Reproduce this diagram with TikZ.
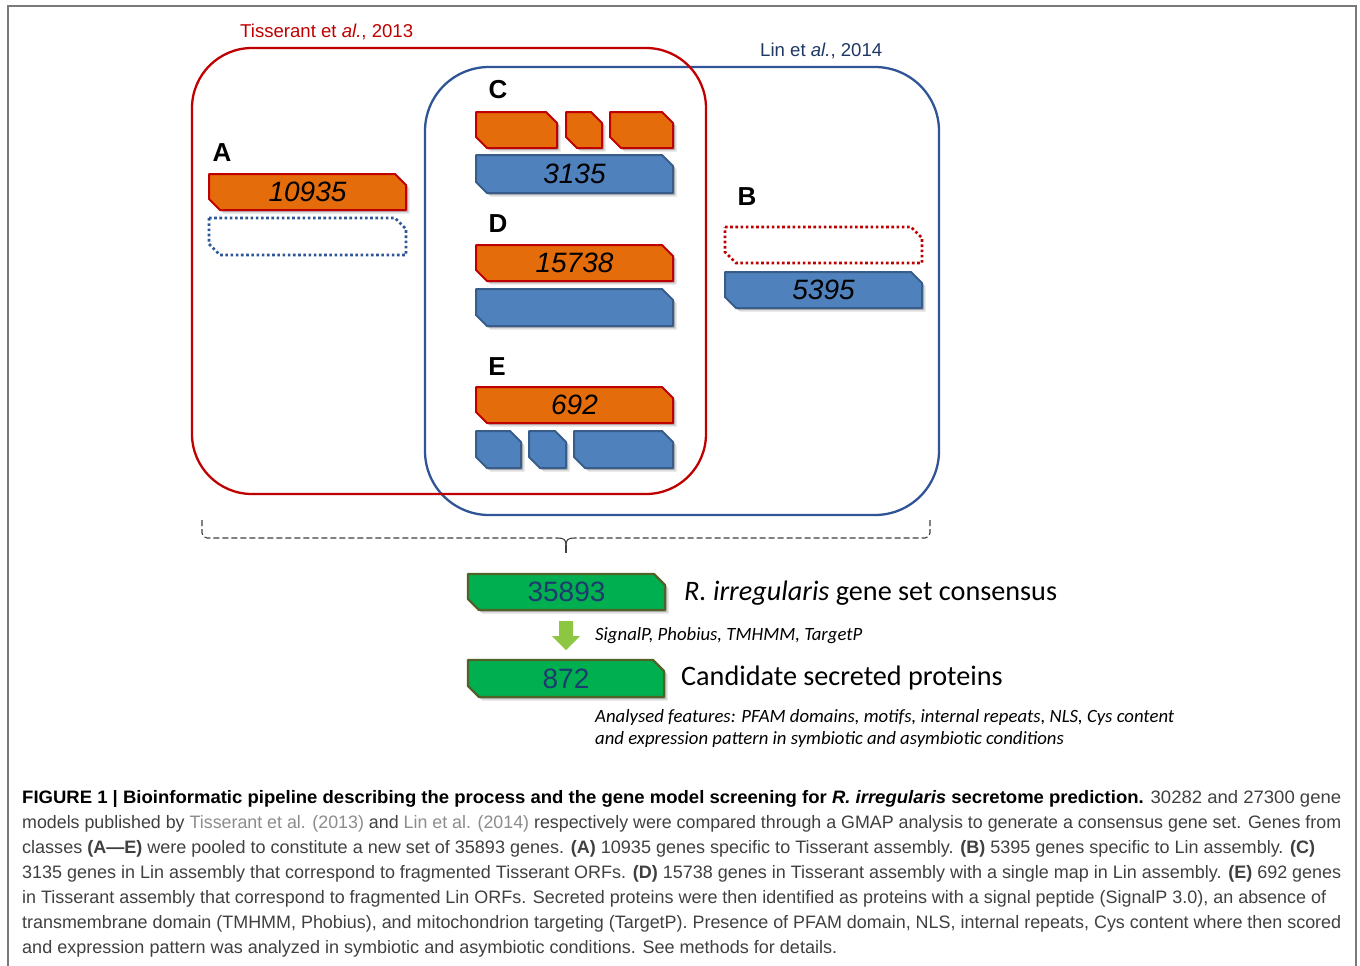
\documentclass[tikz,border=0pt]{standalone}
\usepackage{fontspec}
\setmainfont{Liberation Sans}
\newfontfamily\calfont{Carlito}
\usetikzlibrary{shapes.misc}
\definecolor{tisline}{HTML}{C00000}
\definecolor{tisfill}{HTML}{E46C0A}
\definecolor{linline}{HTML}{385D8A}
\definecolor{linfill}{HTML}{4F81BD}
\definecolor{linbig}{HTML}{2F5597}
\definecolor{linlabel}{HTML}{1F3864}
\definecolor{grfill}{HTML}{00B050}
\definecolor{grline}{HTML}{4F6228}
\definecolor{grtext}{HTML}{1F3A6E}
\definecolor{arrowgr}{HTML}{8DC641}
\definecolor{framec}{HTML}{7A7A7A}
\definecolor{captext}{HTML}{404040}
\definecolor{capcite}{HTML}{8C8C8C}
\definecolor{bracec}{HTML}{404040}
\newcommand\capsize{\fontsize{18}{22}\selectfont}
\newcommand\fitline[2]{\resizebox{#1pt}{\height}{#2}}
\newcommand\lineA{\textbf{\color{black}FIGURE 1 | Bioinformatic pipeline describing the process and the gene model screening for \textit{R. irregularis} secretome prediction.} 30282 and 27300 gene}
\newcommand\lineB{models published by {\color{capcite}Tisserant et al. (2013)} and {\color{capcite}Lin et al. (2014)} respectively were compared through a GMAP analysis to generate a consensus gene set. Genes from}
\newcommand\lineC{classes \textbf{(A—E)} were pooled to constitute a new set of 35893 genes. \textbf{(A)} 10935 genes specific to Tisserant assembly. \textbf{(B)} 5395 genes specific to Lin assembly. \textbf{(C)}}
\newcommand\lineD{3135 genes in Lin assembly that correspond to fragmented Tisserant ORFs. \textbf{(D)} 15738 genes in Tisserant assembly with a single map in Lin assembly. \textbf{(E)} 692 genes}
\newcommand\lineE{in Tisserant assembly that correspond to fragmented Lin ORFs. Secreted proteins were then identified as proteins with a signal peptide (SignalP 3.0), an absence of}
\newcommand\lineF{transmembrane domain (TMHMM, Phobius), and mitochondrion targeting (TargetP). Presence of PFAM domain, NLS, internal repeats, Cys content where then scored}
\newcommand\lineG{and expression pattern was analyzed in symbiotic and asymbiotic conditions. See methods for details.}
% chamfered outline: cx, cy, w, h (pixel units, y downwards)
\def\chz{11}
\newcommand\chpath[4]{({#1-#3/2},{#2-#4/2}) -- ({#1+#3/2-\chz},{#2-#4/2}) -- ({#1+#3/2},{#2-#4/2+\chz}) -- ({#1+#3/2},{#2+#4/2}) -- ({#1-#3/2+\chz},{#2+#4/2}) -- ({#1-#3/2},{#2+#4/2-\chz}) -- cycle}
% gene box: #1 outline style, #2 text style, #3 name, #4 cx, #5 cy, #6 w, #7 h, #8 text
\newcommand\genebox[8]{%
  \fill[black, opacity=0.12, xshift=3.5pt, yshift=-3.5pt] \chpath{#4}{#5}{#6}{#7};
  \fill[black, opacity=0.18, xshift=2pt, yshift=-2pt] \chpath{#4}{#5}{#6}{#7};
  \path[#1] \chpath{#4}{#5}{#6}{#7};
  \node[#2, inner sep=0pt, minimum width=#6pt, minimum height=#7pt] (#3) at (#4,#5) {#8};
}
\newcommand\dotgene[6]{%
  \path[#1] \chpath{#3}{#4}{#5}{#6};
  \node[inner sep=0pt, minimum width=#5pt, minimum height=#6pt] (#2) at (#3,#4) {};
}
\tikzset{
  tisbox/.style={fill=tisfill, draw=tisline, line width=2pt, line join=round},
  linbox/.style={fill=linfill, draw=linline, line width=2pt, line join=round},
  grnbox/.style={fill=grfill, draw=grline, line width=2.4pt, line join=round},
  numtxt/.style={font=\fontsize{28}{30}\selectfont\itshape},
  grntxt/.style={font=\fontsize{28}{30}\selectfont, text=grtext},
  dotline/.style={line width=2.6pt, dash pattern=on 2.6pt off 2.6pt},
  letter/.style={font=\fontsize{26}{28}\selectfont\bfseries, inner sep=0pt},
  setlabel/.style={font=\fontsize{18.6}{20}\selectfont, anchor=west, inner sep=0pt},
  bigset/.style={draw, line width=2.3pt, fill=none},
  capline/.style={anchor=base west, inner sep=0pt, text=captext, font=\capsize},
  calbig/.style={anchor=west, inner sep=0pt, font=\calfont\fontsize{28.2}{30}\selectfont},
  calsmall/.style={anchor=west, inner sep=0pt, font=\calfont\itshape\fontsize{18.75}{21}\selectfont},
  bracestyle/.style={draw=bracec, line width=1.1pt, dash pattern=on 6pt off 3pt},
}
\begin{document}
\begin{tikzpicture}[x=1pt,y=-1pt]
\useasboundingbox (0,0) rectangle (1360,966);
\fill[white] (0,0) rectangle (1360,966);
% frame
\draw[framec, line width=1.6pt] (8,966) -- (8,6) -- (1356,6) -- (1356,966);

% sets
\node[bigset, draw=linbig, rounded corners=64pt, minimum width=514pt, minimum height=448pt] (linset) at (682,291) {};
\node[bigset, draw=tisline, rounded corners=60pt, minimum width=514pt, minimum height=446pt] (tisset) at (449,271) {};
\node[setlabel, text=tisline] (tislab) at (240,32) {Tisserant et \textit{al.}, 2013};
\node[setlabel, text=linlabel] (linlab) at (760,51) {Lin et \textit{al.}, 2014};

% letters
\node[letter] (la) at (222,153) {A};
\node[letter] (lc) at (498,90) {C};
\node[letter] (ld) at (498,224) {D};
\node[letter] (le) at (497,367) {E};
\node[letter] (lb) at (747,197) {B};

% A
\genebox{tisbox}{numtxt}{a1}{307.5}{192}{197}{36}{10935}
\dotgene{draw=linbig, dotline}{a2}{307.5}{236.5}{197}{37}
% C
\genebox{tisbox}{numtxt}{c1}{516.5}{130}{81}{36}{}
\genebox{tisbox}{numtxt}{c2}{584}{130}{36}{36}{}
\genebox{tisbox}{numtxt}{c3}{641.5}{130}{63}{36}{}
\genebox{linbox}{numtxt}{c4}{574.5}{174}{197}{38}{3135}
% D
\genebox{tisbox}{numtxt}{d1}{574.5}{263}{197}{36}{15738}
\genebox{linbox}{numtxt}{d2}{574.5}{307.5}{197}{37}{}
% E
\genebox{tisbox}{numtxt}{e1}{574.5}{405}{197}{36}{692}
\genebox{linbox}{numtxt}{e2}{498.5}{449.5}{45}{37}{}
\genebox{linbox}{numtxt}{e3}{547.5}{449.5}{37}{37}{}
\genebox{linbox}{numtxt}{e4}{623.5}{449.5}{99}{37}{}
% B
\dotgene{draw=tisline, dotline}{b1}{823.5}{245}{197}{36}
\genebox{linbox}{numtxt}{b2}{823.5}{290}{197}{36}{5395}

% brace
\coordinate (bl) at (202,520);
\coordinate (br) at (930,520);
\coordinate (bm) at (566,553);
\draw[bracestyle, rounded corners=5pt] (bl) -- (202,538) -- (558,538);
\draw[bracestyle, rounded corners=5pt] (br) -- (930,538) -- (574,538);
\draw[bracestyle, dash pattern=on 3pt off 0pt] (558,538) .. controls (564,538) and (566,540) .. (566,545);
\draw[bracestyle, dash pattern=on 3pt off 0pt] (574,538) .. controls (568,538) and (566,540) .. (566,545);
\draw[bracestyle, dash pattern=on 8pt off 0pt] (566,545) -- (bm);

% pipeline
\genebox{grnbox}{grntxt}{g1}{566.5}{592}{197}{36}{35893}
\genebox{grnbox}{grntxt}{g2}{566}{678.5}{196}{37}{872}
\fill[arrowgr] (559,621) -- (573,621) -- (573,636) -- (580,636) -- (566,650) -- (552,636) -- (559,636) -- cycle;
\node[calbig] (t1) at (684,593) {\textit{R. irregularis} gene set consensus};
\node[calsmall] (t2) at (595,636) {SignalP, Phobius, TMHMM, TargetP};
\node[calbig] (t3) at (681,678) {Candidate secreted proteins};
\node[calsmall] (t4) at (595,717) {Analysed features: PFAM domains, motifs, internal repeats, NLS, Cys content};
\node[calsmall] (t5) at (595,739) {and expression pattern in symbiotic and asymbiotic conditions};

% caption
\node[capline] (cap1) at (22,803) {\fitline{1319}{\lineA}};
\node[capline] (cap2) at (22,828) {\fitline{1319}{\lineB}};
\node[capline] (cap3) at (22,853) {\fitline{1293}{\lineC}};
\node[capline] (cap4) at (22,878) {\fitline{1319}{\lineD}};
\node[capline] (cap5) at (22,903) {\fitline{1304}{\lineE}};
\node[capline] (cap6) at (22,928) {\fitline{1319}{\lineF}};
\node[capline] (cap7) at (22,953) {\fitline{815}{\lineG}};
\end{tikzpicture}
\end{document}
